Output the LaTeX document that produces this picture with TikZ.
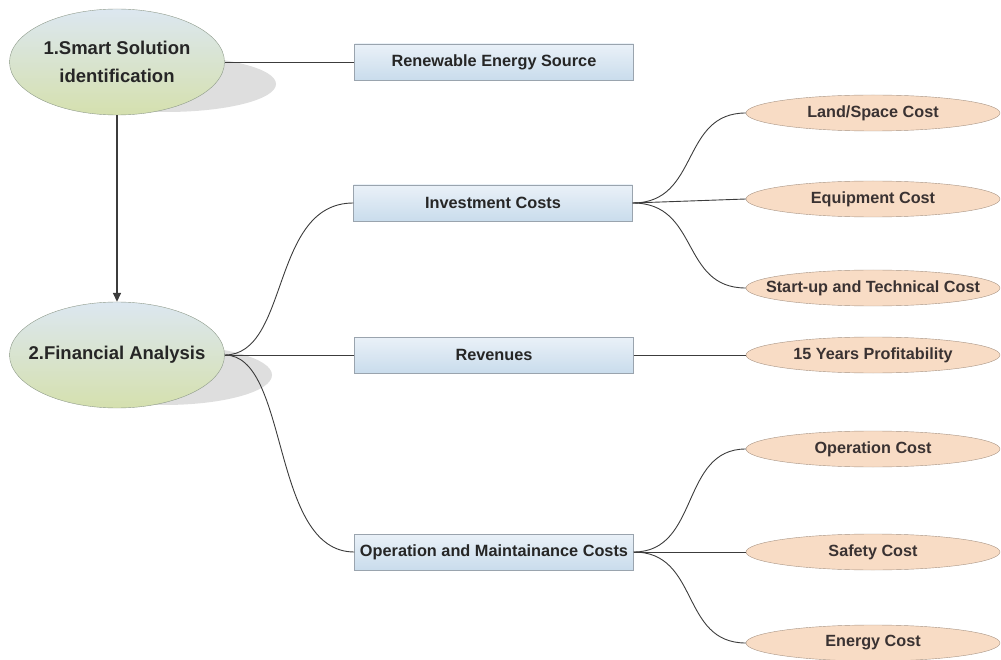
\documentclass[tikz,border=0pt]{standalone}
\usepackage{fontspec}
\setmainfont{Liberation Sans}
\usetikzlibrary{shapes.geometric,arrows.meta}
\definecolor{boxtop}{HTML}{EAF1F8}
\definecolor{boxbot}{HTML}{C9DCEC}
\definecolor{boxline}{HTML}{9AA4AE}
\definecolor{ovtop}{HTML}{DCE7F0}
\definecolor{ovbot}{HTML}{D5E0AE}
\definecolor{ovline}{HTML}{8E9A8A}
\definecolor{leaffill}{HTML}{F8DCC5}
\definecolor{leafline}{HTML}{A89484}
\definecolor{leaftext}{HTML}{3A3232}
\definecolor{wire}{HTML}{3C3C3C}
\tikzset{
  topic/.style={ellipse,draw=ovline,top color=ovtop,bottom color=ovbot,
    minimum width=215pt,minimum height=106pt,inner xsep=-60pt,inner ysep=-20pt,
    align=center,font=\fontsize{18.5}{28}\selectfont\bfseries,text=black!85},
  sub/.style={rectangle,draw=boxline,top color=boxtop,bottom color=boxbot,
    minimum width=279pt,minimum height=36pt,inner sep=0pt,
    font=\fontsize{16.3}{18}\selectfont\bfseries,text=black!85},
  leaf/.style={ellipse,draw=leafline,fill=leaffill,minimum width=254pt,
    minimum height=36pt,inner xsep=-60pt,inner ysep=-10pt,
    font=\fontsize{16.2}{18}\selectfont\bfseries,text=leaftext},
  shade/.style={fill=black!13},
  link/.style={draw=wire,line width=0.9pt},
}
\begin{document}
\begin{tikzpicture}[x=1pt,y=-1pt]
    \useasboundingbox (0,0) rectangle (1001,660);
    \fill[shade] (166,84) ellipse [x radius=110,y radius=28];
    \fill[shade] (164,375) ellipse [x radius=108,y radius=30];
    \node[topic] (smart) at (117,62) {1.Smart Solution\\identification};
    \node[topic] (fin) at (117,355) {2.Financial Analysis};
    \node[sub] (res) at (494,62) {Renewable Energy Source};
    \node[sub] (inv) at (493,203) {Investment Costs};
    \node[sub] (rev) at (494,355) {Revenues};
    \node[sub] (om) at (494,552) {Operation and Maintainance Costs};
    \node[leaf] (land) at (873,113) {Land/Space Cost};
    \node[leaf] (equip) at (873,199) {Equipment Cost};
    \node[leaf] (start) at (873,288) {Start-up and Technical Cost};
    \node[leaf] (profit) at (873,355) {15 Years Profitability};
    \node[leaf] (oper) at (873,449) {Operation Cost};
    \node[leaf] (safe) at (873,552) {Safety Cost};
    \node[leaf] (energy) at (873,643) {Energy Cost};
    \draw[link,line width=1.6pt,-{Triangle[length=9pt,width=8pt]}] (smart) -- (fin);
    \draw[link] (smart.east) -- (res.west);
    \draw[link] (fin.east) .. controls (290,355) and (270,203) .. (inv.west);
    \draw[link] (fin.east) -- (rev.west);
    \draw[link] (fin.east) .. controls (290,355) and (270,552) .. (om.west);
    \draw[link] (inv.east) .. controls (700,203) and (680,113) .. (land.west);
    \draw[link] (inv.east) -- (equip.west);
    \draw[link] (inv.east) .. controls (700,203) and (680,288) .. (start.west);
    \draw[link] (rev.east) -- (profit.west);
    \draw[link] (om.east) .. controls (700,552) and (680,449) .. (oper.west);
    \draw[link] (om.east) -- (safe.west);
    \draw[link] (om.east) .. controls (700,552) and (680,643) .. (energy.west);
\end{tikzpicture}
\end{document}
